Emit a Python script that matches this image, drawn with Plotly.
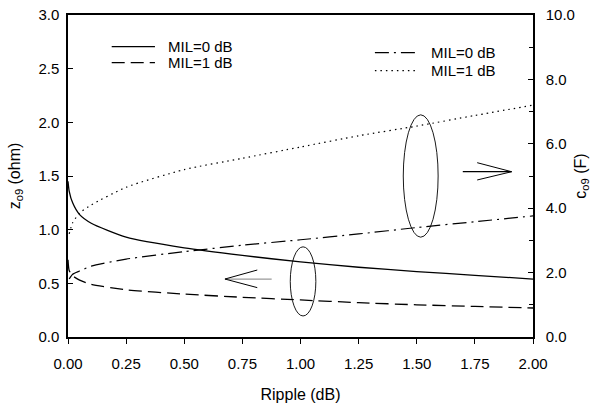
import plotly.graph_objects as go

# Data
ripple_z0 = [0.0, 0.005, 0.02, 0.05, 0.1, 0.25, 0.5, 0.75, 1.0, 1.25, 1.5, 1.75, 2.0]
z_mil0 = [1.45, 1.36, 1.25, 1.14, 1.06, 0.93, 0.83, 0.76, 0.70, 0.65, 0.61, 0.575, 0.54]

ripple_z1 = [0.0, 0.005, 0.02, 0.05, 0.1, 0.25, 0.5, 0.75, 1.0, 1.25, 1.5, 1.75, 2.0]
z_mil1 = [0.72, 0.62, 0.57, 0.53, 0.49, 0.44, 0.40, 0.37, 0.345, 0.32, 0.30, 0.285, 0.27]

ripple_c0 = [0.005, 0.02, 0.05, 0.1, 0.25, 0.5, 0.75, 1.0, 1.25, 1.5, 1.75, 2.0]
c_mil0 = [1.8, 1.95, 2.05, 2.2, 2.42, 2.65, 2.85, 3.02, 3.2, 3.4, 3.58, 3.76]

ripple_c1 = [0.005, 0.02, 0.05, 0.1, 0.25, 0.5, 0.75, 1.0, 1.25, 1.5, 1.75, 2.0]
c_mil1 = [3.2, 3.55, 3.85, 4.1, 4.65, 5.2, 5.55, 5.9, 6.25, 6.55, 6.88, 7.2]

series_names = ["MIL=0 dB", "MIL=1 dB", "MIL=0 dB", "MIL=1 dB"]

x_ticks = [0, 0.25, 0.5, 0.75, 1.0, 1.25, 1.5, 1.75, 2.0]
z_ticks = [0, 0.5, 1.0, 1.5, 2.0, 2.5, 3.0]
c_ticks = [0, 2, 4, 6, 8, 10]
c_minor = [1, 3, 5, 7, 9]

# annotation geometry (in data units of x / left y axis)
ellipse_small = dict(x0=0.956, x1=1.066, y0=0.196, y1=0.84)
ellipse_big = dict(x0=1.442, x1=1.592, y0=0.93, y1=2.07)
arrow_left = dict(tip=(0.675, 0.54), tail=(0.876, 0.54), w1=(0.814, 0.624), w2=(0.814, 0.46))
arrow_right = dict(tip=(1.908, 1.54), tail=(1.698, 1.54), w1=(1.760, 1.624), w2=(1.760, 1.463))

FONT = "Liberation Sans, Arial, sans-serif"

styles = [
    dict(color="black", width=1.3),
    dict(color="black", width=1.3, dash="13px,6px"),
    dict(color="black", width=1.2, dash="14px,5px,2px,5px"),
    dict(color="black", width=1.2, dash="1.5px,4px"),
]

fig = go.Figure()
for xs, ys, st, nm, ax in ((ripple_z0, z_mil0, styles[0], series_names[0], "y"),
                           (ripple_z1, z_mil1, styles[1], series_names[1], "y"),
                           (ripple_c0, c_mil0, styles[2], series_names[2], "y2"),
                           (ripple_c1, c_mil1, styles[3], series_names[3], "y2")):
    fig.add_trace(go.Scatter(x=xs, y=ys, mode="lines", name=nm, yaxis=ax, showlegend=False,
                             line=dict(shape="spline", smoothing=0.6, **st)))

shapes = []
annotations = []
for e in (ellipse_small, ellipse_big):
    shapes.append(dict(type="circle", xref="x", yref="y", line=dict(color="black", width=0.9), **e))
for a, shaft_col in ((arrow_left, "#999999"), (arrow_right, "black")):
    shapes.append(dict(type="line", xref="x", yref="y", x0=a["tail"][0], y0=a["tail"][1],
                       x1=a["tip"][0], y1=a["tip"][1], line=dict(color=shaft_col, width=1.2)))
    for w in ("w1", "w2"):
        shapes.append(dict(type="line", xref="x", yref="y", x0=a[w][0], y0=a[w][1],
                           x1=a["tip"][0], y1=a["tip"][1], line=dict(color="black", width=1)))

# legend boxes (paper coordinates): line start, line end, text x, row y's
legend_layout = [
    (0.094, 0.187, 0.210, [0.9016, 0.852]),
    (0.660, 0.753, 0.776, [0.883, 0.827]),
]
k = 0
for x0, x1, xt, rows in legend_layout:
    for ry in rows:
        st = styles[k]
        shapes.append(dict(type="line", xref="paper", yref="paper", x0=x0, x1=x1, y0=ry, y1=ry,
                           line=dict(color=st["color"], width=st["width"], dash=st.get("dash", "solid"))))
        annotations.append(dict(xref="paper", yref="paper", x=xt, y=ry, text=series_names[k],
                                showarrow=False, xanchor="left", yanchor="middle",
                                font=dict(family=FONT, size=15, color="black")))
        k += 1

axis_common = dict(showgrid=False, zeroline=False, linecolor="black", linewidth=1.5,
                   tickcolor="black", tickfont=dict(family=FONT, size=15, color="black"),
                   automargin=False)

fig.update_layout(
    width=591, height=405,
    margin=dict(l=68, r=58, t=15, b=68, autoexpand=False),
    paper_bgcolor="white", plot_bgcolor="white",
    font=dict(family=FONT, size=15, color="black"),
    shapes=shapes, annotations=annotations, showlegend=False,
    xaxis=dict(range=[0, 2.0], tickvals=x_ticks, tickformat=".2f", ticks="outside", ticklen=5,
               mirror=True, showline=True, ticklabelstandoff=7,
               title=dict(text="Ripple (dB)", font=dict(family=FONT, size=16), standoff=18),
               **axis_common),
    yaxis=dict(range=[0, 3.0], tickvals=z_ticks, tickformat=".1f", ticks="inside", ticklen=5,
               showline=True, ticklabelstandoff=4,
               title=dict(text="z<sub>o9</sub> (ohm)", font=dict(family=FONT, size=16), standoff=14),
               **axis_common),
    yaxis2=dict(range=[0, 10.0], tickvals=c_ticks, tickformat=".1f", ticks="inside", ticklen=5,
                overlaying="y", side="right", showline=True, ticklabelstandoff=8,
                minor=dict(tickvals=c_minor, ticks="inside", ticklen=4, tickcolor="black"),
                title=dict(text="c<sub>o9</sub> (F)", font=dict(family=FONT, size=16), standoff=5),
                **axis_common),
)

fig.write_html("out.html", config={"displayModeBar": False},
               post_script="document.body.style.margin='0';document.body.style.overflow='hidden';")
